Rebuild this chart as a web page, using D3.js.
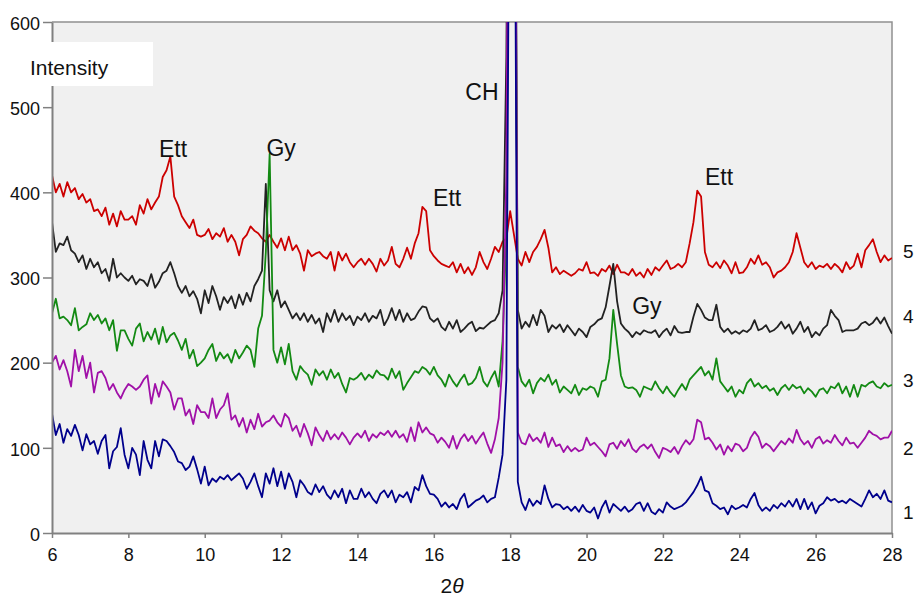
<!DOCTYPE html>
<html>
<head>
<meta charset="utf-8">
<script src="https://cdn.jsdelivr.net/npm/d3@7"></script>
<style>
  body { margin: 0; background: #fff; }
  svg { display: block; font-family: "Liberation Sans", Arial, Helvetica, sans-serif; }
</style>
</head>
<body>
<script>
// 2θ grid of the scans, step 0.1 from 6 to 28
const twoTheta = d3.range(60, 281).map(i => i / 10);

// intensity of each sample, one row per degree of 2θ
const sample1 = [
  140, 115, 128, 106, 122, 114, 127, 115, 97, 116,
  104, 108, 93, 108, 115, 76, 96, 101, 123, 92,
  76, 100, 92, 68, 108, 86, 76, 108, 90, 110,
  108, 102, 95, 84, 82, 74, 78, 90, 75, 58,
  78, 56, 64, 60, 66, 63, 68, 62, 66, 70,
  64, 52, 60, 70, 55, 42, 70, 58, 76, 55,
  72, 52, 70, 60, 42, 62, 56, 48, 45, 57,
  48, 55, 45, 40, 50, 42, 52, 35, 50, 40,
  40, 52, 42, 48, 40, 35, 46, 50, 42, 50,
  36, 45, 42, 48, 36, 54, 50, 68, 55, 46,
  45, 40, 31, 36, 30, 34, 28, 40, 46, 30,
  34, 38, 40, 44, 36, 40, 42, 65, 92, 180,
  1000, 1000, 60, 36, 27, 40, 32, 38, 34, 56,
  40, 30, 34, 33, 28, 31, 26, 31, 25, 33,
  26, 24, 30, 17, 30, 38, 24, 34, 30, 26,
  31, 25, 28, 34, 36, 26, 35, 25, 22, 28,
  24, 36, 31, 28, 30, 32, 36, 42, 48, 56,
  66, 50, 48, 35, 32, 28, 30, 22, 32, 28,
  30, 33, 30, 40, 47, 33, 26, 30, 26, 33,
  29, 35, 31, 38, 31, 40, 28, 40, 28, 36,
  23, 32, 35, 42, 38, 40, 36, 38, 35, 40,
  37, 34, 31, 40, 50, 42, 46, 40, 50, 38,
  36
];
const sample2 = [
  200, 208, 192, 203, 190, 172, 215, 190, 208, 182,
  200, 165, 188, 190, 182, 168, 175, 165, 158, 168,
  175, 172, 168, 172, 180, 185, 152, 175, 160, 178,
  172, 165, 145, 158, 158, 138, 145, 128, 150, 142,
  142, 135, 158, 135, 145, 150, 164, 133, 138, 125,
  135, 118, 133, 122, 140, 125, 130, 132, 138, 130,
  125, 140, 135, 120, 126, 113, 128, 117, 103, 124,
  115, 108, 120, 110, 116, 110, 118, 112, 104, 112,
  117, 112, 120, 108, 116, 112, 118, 115, 120, 113,
  120, 112, 116, 107, 124, 108, 130, 118, 124, 117,
  115, 106, 112, 107, 100, 114, 99, 110, 116, 108,
  114, 105, 112, 118, 105, 94, 110, 135, 200, 420,
  1300, 1300, 118, 106, 104, 116, 108, 112, 106, 118,
  101, 112, 102, 104, 95, 102, 96, 100, 96, 98,
  112, 103, 106, 101, 96, 90, 104, 106, 99, 108,
  102, 110, 99, 95, 101, 104, 99, 104, 95, 88,
  100, 98, 95, 101, 93, 102, 109, 104, 110, 133,
  130, 110, 112, 106, 98, 104, 92, 102, 96, 105,
  103, 96, 100, 112, 119, 113, 100, 105, 102, 96,
  102, 108, 104, 111, 106, 121, 110, 104, 108, 100,
  110, 113, 105, 109, 106, 115, 108, 103, 112, 105,
  106, 100, 106, 112, 120, 116, 114, 110, 112, 112,
  120
];
const sample3 = [
  258, 275, 252, 254, 250, 244, 264, 238, 242, 245,
  258, 250, 256, 246, 252, 238, 250, 214, 238, 238,
  228, 220, 240, 246, 225, 236, 227, 240, 222, 242,
  224, 232, 235, 226, 215, 228, 205, 215, 196, 200,
  205, 215, 222, 202, 212, 205, 210, 200, 215, 205,
  212, 220, 215, 195, 240, 255, 330, 445, 215, 200,
  218, 198, 222, 190, 180, 196, 190, 186, 174, 192,
  185, 190, 180, 192, 182, 188, 175, 165, 182, 180,
  183, 188, 180, 186, 182, 191, 186, 185, 180, 193,
  182, 190, 168, 176, 183, 190, 188, 195, 192, 186,
  195, 185, 180, 172, 186, 178, 172, 180, 186, 174,
  176, 182, 195, 178, 172, 182, 190, 172, 225, 350,
  1100, 1200, 195, 178, 172, 180, 164, 176, 182, 178,
  186, 174, 180, 165, 172, 168, 164, 174, 162, 170,
  168, 172, 170, 160, 178, 180, 205, 262, 222, 185,
  172, 170, 171, 168, 160, 172, 170, 168, 178, 170,
  164, 172, 165, 160, 168, 175, 168, 180, 185, 190,
  195, 185, 190, 180, 205, 178, 172, 166, 172, 160,
  168, 164, 176, 181, 172, 176, 170, 173, 167, 170,
  162, 170, 174, 168, 174, 170, 172, 164, 170, 166,
  160, 168, 170, 164, 172, 170, 176, 164, 172, 160,
  174, 160, 174, 172, 176, 178, 172, 170, 176, 172,
  174
];
const sample4 = [
  365, 330, 340, 338, 348, 332, 328, 318, 326, 310,
  322, 312, 318, 305, 310, 296, 322, 300, 305, 300,
  296, 302, 292, 298, 296, 290, 304, 288, 295, 305,
  308, 318, 305, 290, 282, 290, 278, 284, 275, 258,
  285, 270, 290, 278, 262, 277, 270, 278, 264, 280,
  268, 282, 272, 290, 298, 308, 410, 285, 272, 285,
  265, 272, 262, 252, 258, 250, 258, 248, 256, 246,
  252, 236, 258, 248, 262, 248, 258, 250, 255, 244,
  254, 250, 258, 248, 255, 252, 262, 244, 252, 264,
  250, 262, 248, 258, 250, 252, 260, 266, 265, 252,
  248, 252, 242, 238, 248, 240, 250, 236, 240, 245,
  248, 237, 241, 240, 244, 248, 250, 258, 285, 560,
  1200, 1000, 262, 240, 248, 242, 256, 244, 262, 255,
  236, 244, 240, 245, 236, 244, 238, 232, 240, 236,
  230, 242, 245, 250, 252, 265, 290, 316, 272, 246,
  240, 236, 230, 236, 233, 238, 236, 235, 238, 230,
  236, 240, 232, 243, 236, 235, 236, 236, 254, 269,
  262, 253, 250, 250, 268, 242, 236, 240, 234, 237,
  234, 238, 236, 240, 250, 238, 240, 244, 236, 238,
  242, 248, 240, 245, 234, 240, 248, 236, 242, 230,
  236, 232, 240, 244, 262, 255, 250, 236, 238, 238,
  238, 240, 246, 248, 244, 247, 253, 246, 253, 243,
  234
];
const sample5 = [
  420, 400, 410, 395, 412, 400, 405, 392, 398, 388,
  392, 378, 380, 372, 382, 362, 375, 360, 378, 368,
  368, 372, 362, 385, 375, 392, 380, 388, 395, 418,
  426, 442, 395, 385, 372, 365, 358, 368, 350, 348,
  350, 357, 345, 352, 348, 358, 342, 350, 342, 326,
  345, 350, 360, 355, 352, 346, 342, 350, 342, 335,
  346, 332, 348, 332, 338, 328, 308, 332, 325, 328,
  330, 325, 322, 330, 308, 330, 320, 328, 318, 312,
  318, 322, 315, 322, 316, 307, 322, 314, 320, 336,
  316, 312, 322, 335, 322, 340, 352, 383, 378, 332,
  325, 320, 316, 314, 312, 318, 306, 316, 305, 312,
  303, 312, 330, 318, 310, 322, 336, 330, 342, 346,
  378, 350, 322, 314, 330, 318, 330, 336, 345, 356,
  335, 306, 312, 304, 308, 305, 302, 305, 310, 308,
  318, 305, 306, 302, 310, 307, 314, 304, 315, 306,
  306, 303, 310, 302, 306, 300, 310, 303, 312, 308,
  314, 320, 310, 312, 316, 312, 318, 340, 365, 402,
  395, 330, 315, 312, 318, 311, 320, 314, 305, 318,
  305, 306, 312, 322, 316, 326, 315, 318, 312, 300,
  306, 308, 312, 318, 330, 352, 335, 318, 312, 318,
  310, 314, 312, 316, 310, 316, 312, 306, 318, 310,
  314, 328, 312, 332, 338, 345, 330, 318, 326, 320,
  323
];

const samples = [sample1, sample2, sample3, sample4, sample5];
const sampleNames = ['1', '2', '3', '4', '5'];
const sampleLabelLevels = [25, 100, 180, 255, 331];
const lineColors = ['#00008c', '#a010a8', '#138a13', '#222222', '#cc0000'];

const xTicks = [6, 8, 10, 12, 14, 16, 18, 20, 22, 24, 26, 28];
const yTicks = [0, 100, 200, 300, 400, 500, 600];

// phase labels: text, 2θ of the label centre, intensity of its baseline
const peakText = ['Ett', 'Gy', 'Ett', 'CH', 'Gy', 'Ett'];
const peakTheta = [9.17, 12.0, 16.35, 17.26, 21.58, 23.47];
const peakLevel = [441, 443, 384, 508, 257, 409];

let width, height, plotLeft, plotRight, plotTop, plotBottom, svg, xScale, yScale;
width = 917;
height = 596;
plotLeft = 52;
plotRight = 892;
plotTop = 22;
plotBottom = 533;

svg = d3.select('body')
        .append('svg')
        .attr('width', width)
        .attr('height', height)
        .style('background-color', 'white');

const genScale = () => {
    xScale = d3.scaleLinear()
                .domain([6, 28])
                .range([plotLeft, plotRight]);
    yScale = d3.scaleLinear()
                .domain([0, 600])
                .range([plotBottom, plotTop]);
};

const genFrame = () => {
    svg.append('rect')
        .attr('x', plotLeft)
        .attr('y', plotTop)
        .attr('width', plotRight - plotLeft)
        .attr('height', plotBottom - plotTop)
        .attr('fill', '#f0f0f0');

    svg.append('clipPath')
        .attr('id', 'plot-clip')
        .append('rect')
        .attr('x', plotLeft)
        .attr('y', plotTop)
        .attr('width', plotRight - plotLeft)
        .attr('height', plotBottom - plotTop);

    // top and right border
    svg.append('path')
        .attr('d', `M${plotLeft},${plotTop}H${plotRight}V${plotBottom}`)
        .attr('fill', 'none')
        .attr('stroke', '#909090')
        .attr('stroke-width', 1.5);
};

const genAxis = () => {
    const xAxis = d3.axisBottom(xScale)
                    .tickValues(xTicks)
                    .tickFormat(d3.format('d'))
                    .tickSize(5)
                    .tickSizeOuter(0)
                    .tickPadding(10);
    const yAxis = d3.axisLeft(yScale)
                    .tickValues(yTicks)
                    .tickFormat(d3.format('d'))
                    .tickSize(9)
                    .tickSizeOuter(0)
                    .tickPadding(3);

    const gx = svg.append('g')
        .attr('id', 'x-axis')
        .attr('transform', `translate(0,${plotBottom})`)
        .call(xAxis);
    const gy = svg.append('g')
        .attr('id', 'y-axis')
        .attr('transform', `translate(${plotLeft},0)`)
        .call(yAxis);

    [gx, gy].forEach(g => {
        g.select('.domain').attr('stroke', '#808080').attr('stroke-width', 2);
        g.selectAll('.tick line').attr('stroke', '#808080').attr('stroke-width', 1.5);
        g.selectAll('.tick text')
            .attr('fill', '#111')
            .style('font-size', '18px')
            .style('font-family', '"Liberation Sans", Arial, Helvetica, sans-serif');
    });
    gy.selectAll('.tick text').attr('dy', '0.4em');

    const xLabel = svg.append('text')
        .attr('x', 452)
        .attr('y', 593)
        .attr('text-anchor', 'middle')
        .style('font-size', '21px')
        .attr('fill', '#111');
    xLabel.append('tspan').text('2');
    xLabel.append('tspan').style('font-style', 'italic').text('θ');

    // white box holding the y title, laid over the axis line
    svg.append('rect')
        .attr('x', 0)
        .attr('y', 42)
        .attr('width', 153)
        .attr('height', 44)
        .attr('fill', 'white');
    svg.append('text')
        .attr('x', 30)
        .attr('y', 75)
        .style('font-size', '21px')
        .attr('fill', '#111')
        .text('Intensity');
};

const genLines = () => {
    const line = d3.line()
        .x((d, i) => xScale(twoTheta[i]))
        .y(d => yScale(d));

    const g = svg.append('g').attr('clip-path', 'url(#plot-clip)');
    // sample 5 first so sample 1 ends on top
    d3.range(samples.length).reverse().forEach(k => {
        g.append('path')
            .datum(samples[k])
            .attr('d', line)
            .attr('fill', 'none')
            .attr('stroke', lineColors[k])
            .attr('stroke-width', 1.8)
            .attr('stroke-linejoin', 'round');
    });
};

const genLabels = () => {
    svg.selectAll('.peak-label')
        .data(peakText)
        .enter()
        .append('text')
        .attr('class', 'peak-label')
        .attr('x', (d, i) => xScale(peakTheta[i]))
        .attr('y', (d, i) => yScale(peakLevel[i]))
        .attr('text-anchor', 'middle')
        .style('font-size', '23px')
        .attr('fill', '#111')
        .text(d => d);

    svg.selectAll('.sample-label')
        .data(sampleNames)
        .enter()
        .append('text')
        .attr('class', 'sample-label')
        .attr('x', plotRight + 11)
        .attr('y', (d, i) => yScale(sampleLabelLevels[i]) + 7)
        .style('font-size', '19px')
        .attr('fill', '#111')
        .text(d => d);
};

genScale();
genFrame();
genLines();
genAxis();
genLabels();
</script>
</body>
</html>
